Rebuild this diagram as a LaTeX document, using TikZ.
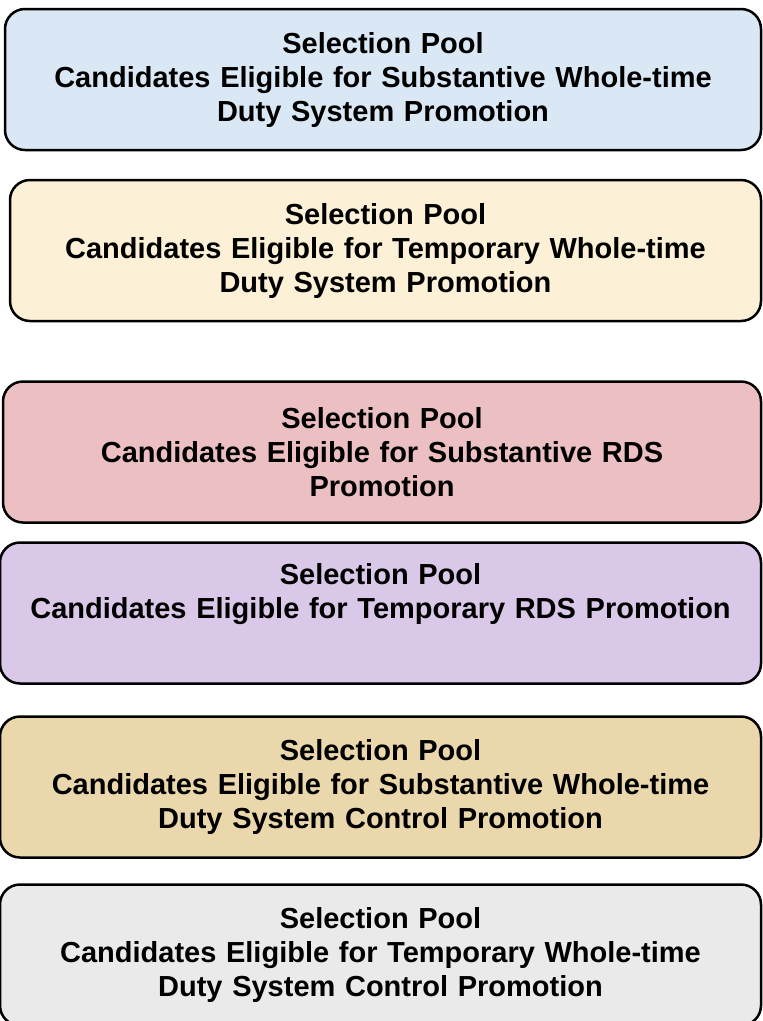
\documentclass[tikz,border=0pt]{standalone}
\usepackage{fontspec}
\setmainfont{Liberation Sans}
\usetikzlibrary{shapes}
\definecolor{poolblue}{RGB}{218,231,244}
\definecolor{poolcream}{RGB}{252,240,214}
\definecolor{poolpink}{RGB}{236,192,194}
\definecolor{poollilac}{RGB}{218,200,232}
\definecolor{pooltan}{RGB}{234,215,172}
\definecolor{poolgrey}{RGB}{234,234,234}
\tikzstyle{pool}=[draw, line width=2.5pt, rounded corners=20pt,
    text width=740pt, text centered, inner sep=0pt, outer sep=0pt,
    minimum height=141pt, font=\bfseries\fontsize{29}{34}\selectfont]
\tikzstyle{sw} = [pool, fill=poolblue, minimum width=756pt]
\tikzstyle{tw} = [pool, fill=poolcream, minimum width=751pt]
\tikzstyle{srds} = [pool, fill=poolpink, minimum width=758pt]
\tikzstyle{trds} = [pool, fill=poollilac, minimum width=761pt]
\tikzstyle{swc} = [pool, fill=pooltan, minimum width=761pt]
\tikzstyle{twc} = [pool, fill=poolgrey, minimum width=761pt]

\begin{document}
\begin{tikzpicture}[x=1pt,y=-1pt]
    \useasboundingbox[fill=white] (0,0) rectangle (763,1021);

    \node (sw)[sw] at (383,79.5) {Selection Pool\\
        Candidates Eligible for Substantive Whole-time\\
        Duty System Promotion};
    \path (sw.south)+(2.5,100.5) node (tw)[tw] {Selection Pool\\
        Candidates Eligible for Temporary Whole-time\\
        Duty System Promotion};

    \path (tw.south)+(-3.5,131) node (srds)[srds] {Selection Pool\\
        Candidates Eligible for Substantive RDS\\
        Promotion};
    \path (srds.south)+(-1.5,90.5) node (trds)[trds] {Selection Pool\\
        Candidates Eligible for Temporary RDS Promotion\\ \strut};

    \path (trds.south)+(0,103.5) node (swc)[swc] {Selection Pool\\
        Candidates Eligible for Substantive Whole-time\\
        Duty System Control Promotion};
    \path (swc.south)+(0,97.5) node (twc)[twc] {Selection Pool\\
        Candidates Eligible for Temporary Whole-time\\
        Duty System Control Promotion};

\end{tikzpicture}
\end{document}
